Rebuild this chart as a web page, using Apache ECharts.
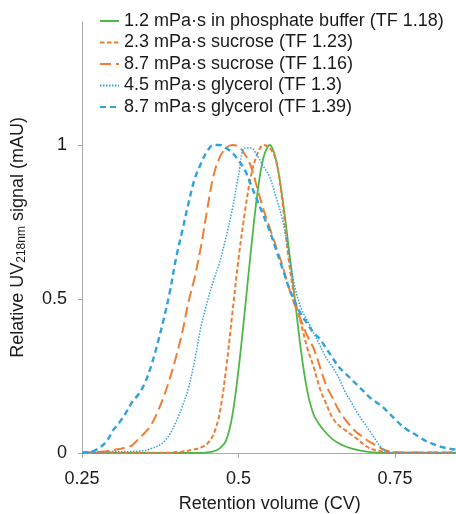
<!DOCTYPE html>
<html>
<head>
<meta charset="utf-8">
<style>
  html, body { margin: 0; padding: 0; background: #ffffff; }
  #chart { width: 456px; height: 514px; }
</style>
<script src="https://cdn.jsdelivr.net/npm/echarts@6/dist/echarts.min.js"></script>
</head>
<body>
<div id="chart"></div>
<script>
// Retention volume (CV) sample points shared by every trace
const retention = [
  0.25, 0.26, 0.27, 0.28, 0.29, 0.30, 0.31, 0.32, 0.33, 0.34,
  0.35, 0.36, 0.37, 0.38, 0.39, 0.40, 0.41, 0.42, 0.43, 0.44,
  0.45, 0.46, 0.47, 0.48, 0.49, 0.50, 0.51, 0.52, 0.53, 0.54,
  0.55, 0.56, 0.57, 0.58, 0.59, 0.60, 0.61, 0.62, 0.63, 0.64,
  0.65, 0.66, 0.67, 0.68, 0.69, 0.70, 0.71, 0.72, 0.73, 0.74,
  0.75, 0.76, 0.77, 0.78, 0.79, 0.80, 0.81, 0.82, 0.83, 0.84,
  0.85
];

// Relative UV218nm signal for each mobile phase
const phosphate12 = [
  0, 0, 0, 0, 0, 0, 0, 0, 0, 0,
  0, 0, 0, 0, 0, 0, 0, 0, 0, 0,
  0.002, 0.005, 0.015, 0.04, 0.12, 0.27, 0.46, 0.66, 0.84, 0.96,
  1.0, 0.95, 0.83, 0.67, 0.50, 0.33, 0.20, 0.125, 0.09, 0.065,
  0.045, 0.032, 0.022, 0.015, 0.01, 0.006, 0.003, 0.001, 0, 0,
  0, 0, 0, 0, 0, 0, 0, 0, 0, 0,
  0
];
const sucrose23 = [
  0.001, 0.001, 0.001, 0.001, 0.001, 0.001, 0.001, 0.001, 0.001, 0.001,
  0.001, 0.001, 0.001, 0.001, 0.001, 0.003, 0.005, 0.008, 0.012, 0.018,
  0.03, 0.06, 0.13, 0.27, 0.45, 0.63, 0.78, 0.90, 0.97, 1.0,
  0.99, 0.95, 0.82, 0.63, 0.50, 0.42, 0.34, 0.28, 0.21, 0.16,
  0.115, 0.09, 0.075, 0.06, 0.045, 0.028, 0.015, 0.009, 0.005, 0.003,
  0.002, 0.002, 0.002, 0.002, 0.002, 0.002, 0.002, 0.002, 0.002, 0.002,
  0.002
];
const sucrose87 = [
  0.001, 0.002, 0.003, 0.004, 0.006, 0.01, 0.013, 0.018, 0.025, 0.045,
  0.065, 0.09, 0.13, 0.18, 0.24, 0.31, 0.39, 0.49, 0.57, 0.67,
  0.79, 0.90, 0.96, 0.99, 1.0, 0.995, 0.97, 0.93, 0.86, 0.79,
  0.73, 0.67, 0.61, 0.54, 0.48, 0.43, 0.38, 0.34, 0.28, 0.22,
  0.18, 0.14, 0.11, 0.085, 0.065, 0.05, 0.035, 0.025, 0.013, 0.006,
  0.003, 0.002, 0.002, 0.002, 0.002, 0.002, 0.002, 0.002, 0.002, 0.002,
  0.002
];
const glycerol45 = [
  0.001, 0.002, 0.003, 0.004, 0.004, 0.005, 0.004, 0.005, 0.005, 0.006,
  0.008, 0.014, 0.022, 0.035, 0.06, 0.10, 0.15, 0.21, 0.30, 0.41,
  0.49, 0.56, 0.62, 0.70, 0.79, 0.90, 0.99, 0.99, 0.965, 0.93,
  0.895, 0.83, 0.76, 0.65, 0.54, 0.47, 0.43, 0.39, 0.35, 0.31,
  0.28, 0.245, 0.20, 0.165, 0.13, 0.10, 0.07, 0.04, 0.012, 0.002,
  0, 0, 0, 0, 0, 0, 0, 0, 0, 0,
  0
];
const glycerol87 = [
  0.001, 0.003, 0.008, 0.02, 0.04, 0.075, 0.10, 0.13, 0.165, 0.19,
  0.225, 0.28, 0.35, 0.43, 0.52, 0.63, 0.72, 0.81, 0.89, 0.94,
  0.98, 1.0, 1.0, 0.99, 0.975, 0.95, 0.92, 0.87, 0.82, 0.77,
  0.72, 0.66, 0.60, 0.54, 0.49, 0.45, 0.42, 0.39, 0.37, 0.34,
  0.31, 0.28, 0.26, 0.24, 0.22, 0.20, 0.18, 0.165, 0.15, 0.13,
  0.11, 0.09, 0.075, 0.063, 0.05, 0.038, 0.03, 0.022, 0.017, 0.013,
  0.01
];

const seriesNames = [
  '1.2 mPa\u00b7s in phosphate buffer (TF 1.18)',
  '2.3 mPa\u00b7s sucrose (TF 1.23)',
  '8.7 mPa\u00b7s sucrose (TF 1.16)',
  '4.5 mPa\u00b7s glycerol (TF 1.3)',
  '8.7 mPa\u00b7s glycerol (TF 1.39)'
];
const xTicks = [0.25, 0.5, 0.75];
const yTicks = [0, 0.5, 1];

const FONT = '"Liberation Sans", Arial, sans-serif';
const GREEN = '#4db748';
const ORANGE = '#ef7d33';
const BLUE = '#2fa2dc';

function pairs(ys) {
  return retention.map((x, i) => [x, ys[i]]);
}

function trace(name, ys, color, width, dash) {
  return {
    name: name,
    type: 'line',
    data: pairs(ys),
    smooth: 0.35,
    symbol: 'none',
    showSymbol: false,
    clip: true,
    lineStyle: { color: color, width: width, type: dash, cap: 'butt' },
    itemStyle: { color: color },
    emphasis: { disabled: true },
    animation: false
  };
}

const chart = echarts.init(document.getElementById('chart'), null, { renderer: 'canvas' });

chart.setOption({
  backgroundColor: '#ffffff',
  animation: false,
  textStyle: { fontFamily: FONT },
  grid: {
    left: 82,
    top: 21.8,
    width: 375.6,
    height: 431.2,
    containLabel: false,
    outerBoundsMode: 'none'
  },
  legend: {
    orient: 'vertical',
    left: 99,
    top: 12,
    padding: 0,
    itemWidth: 19,
    itemHeight: 14,
    itemGap: 3.5,
    itemStyle: { opacity: 0 },
    textStyle: { fontFamily: FONT, fontSize: 18, color: '#1a1a1a', lineHeight: 18 },
    data: seriesNames
  },
  xAxis: {
    type: 'value',
    min: 0.25,
    max: 0.85,
    interval: 0.25,
    name: 'Retention volume (CV)',
    nameLocation: 'middle',
    nameGap: 42,
    nameTextStyle: { fontFamily: FONT, fontSize: 18, color: '#1a1a1a' },
    axisLine: { show: true, lineStyle: { color: '#a9a9a9', width: 1 } },
    axisTick: { show: true, length: 5, inside: false, customValues: xTicks, lineStyle: { color: '#a9a9a9' } },
    axisLabel: {
      customValues: xTicks,
      margin: 17,
      fontFamily: FONT, fontSize: 18, color: '#1a1a1a',
      formatter: v => String(v)
    },
    splitLine: { show: false }
  },
  yAxis: {
    type: 'value',
    min: 0,
    max: 1.4,
    interval: 0.5,
    name: '{a|Relative UV}{s|218nm}{a| signal (mAU)}',
    nameLocation: 'middle',
    nameGap: 54,
    nameTextStyle: {
      fontFamily: FONT, fontSize: 18, color: '#1a1a1a',
      rich: {
        a: { fontFamily: FONT, fontSize: 18, color: '#1a1a1a', lineHeight: 20 },
        s: { fontFamily: FONT, fontSize: 12, color: '#1a1a1a', lineHeight: 20, verticalAlign: 'bottom' }
      }
    },
    axisLine: { show: true, lineStyle: { color: '#a9a9a9', width: 1 } },
    axisTick: { show: true, length: 4, inside: false, customValues: yTicks, lineStyle: { color: '#a9a9a9' } },
    axisLabel: {
      customValues: yTicks,
      margin: 15,
      fontFamily: FONT, fontSize: 18, color: '#1a1a1a',
      formatter: v => String(v)
    },
    splitLine: { show: false }
  },
  series: [
    trace(seriesNames[0], phosphate12, GREEN, 1.8, 'solid'),
    trace(seriesNames[1], sucrose23, ORANGE, 2, [4.5, 2.5]),
    trace(seriesNames[2], sucrose87, ORANGE, 2, [11, 5]),
    trace(seriesNames[3], glycerol45, BLUE, 1.5, [1.5, 1.5]),
    trace(seriesNames[4], glycerol87, BLUE, 2.4, [6, 4])
  ]
});
</script>
</body>
</html>
